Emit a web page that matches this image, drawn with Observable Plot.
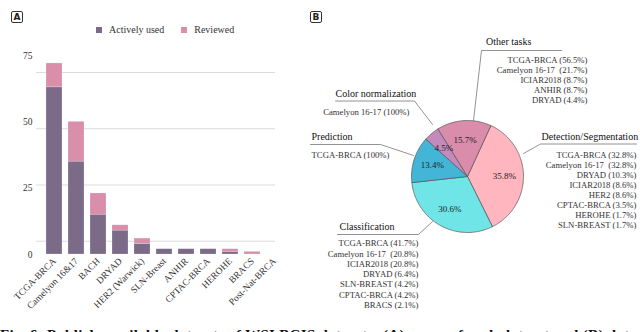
<!DOCTYPE html>
<html><head><meta charset="utf-8">
<script src="https://cdn.jsdelivr.net/npm/d3@7"></script>
<script src="https://cdn.jsdelivr.net/npm/@observablehq/plot@0.6"></script>
<style>
html,body{margin:0;padding:0;background:#fff;}
body{width:640px;height:332px;overflow:hidden;position:relative;font-family:"Liberation Serif",serif;}
.abs{position:absolute;}
svg, svg text{font-family:"Liberation Serif",serif !important;}
.panel{position:absolute;width:10px;height:10px;border:1px solid #333;border-radius:2px;font:bold 9px "DejaVu Sans",sans-serif;text-align:center;line-height:10px;color:#222;}
.lg-swatches{font-family:"Liberation Serif",serif !important;font-size:10px !important;color:#333;margin:0 !important;}
.lg-swatch{margin-right:17px !important;}
.lg-swatch > svg{margin-right:7px !important;}
#caption{left:0;top:327px;font:bold 15px "Liberation Serif",serif;white-space:nowrap;color:#111;letter-spacing:0.3px;}
</style></head><body>
<div id="bar" class="abs" style="left:0;top:0"></div>
<div id="legend" class="abs" style="left:96px;top:13px"></div>
<div id="pie" class="abs" style="left:300px;top:0"></div>
<div class="panel" style="left:11px;top:11px">A</div>
<div class="panel" style="left:310px;top:11px">B</div>
<div id="caption" class="abs">Fig. 6: Publicly available datasets of WSI BCIS datasets: (A) usage of each dataset and (B) datasets used per task</div>
<script>
// ---------- Panel A data ----------
const datasets = ["TCGA-BRCA","Camelyon 16&17","BACH","DRYAD","HER2 (Warwick)","SLN-Breast","ANHIR","CPTAC-BRCA","HEROHE","BRACS","Post-Nat-BRCA"];
const activelyUsed = [63, 35, 15, 9, 4, 2, 2, 2, 1, 0, 0];
const reviewed     = [ 9, 15,  8, 2, 2, 0, 0, 0, 1, 1, 0];
const seriesNames = ["Actively used","Reviewed"];
const seriesColors = ["#7c6a89","#d98ea9"];
const yTicks = [0, 25, 50, 75];
const gridValues = [5, 26.2, 47.4, 68.6];

// ---------- Panel B data ----------
const tasks = ["Detection/Segmentation","Classification","Prediction","Color normalization","Other tasks"];
const taskShares = [35.8, 30.6, 13.4, 4.5, 15.7];
const taskColors = ["#ffb6bf","#6fe5e8","#43b6d7","#c48abd","#d98dab"];
const detectionList = ["TCGA-BRCA (32.8%)","Camelyon 16-17\u00a0 (32.8%)","DRYAD (10.3%)","ICIAR2018 (8.6%)","HER2 (8.6%)","CPTAC-BRCA (3.5%)","HEROHE (1.7%)","SLN-BREAST (1.7%)"];
const classificationList = ["TCGA-BRCA (41.7%)","Camelyon 16-17\u00a0 (20.8%)","ICIAR2018 (20.8%)","DRYAD (6.4%)","SLN-BREAST (4.2%)","CPTAC-BRCA (4.2%)","BRACS (2.1%)"];
const predictionList = ["TCGA-BRCA (100%)"];
const colorNormList = ["Camelyon 16-17 (100%)"];
const otherTasksList = ["TCGA-BRCA (56.5%)","Camelyon 16-17\u00a0 (21.7%)","ICIAR2018 (8.7%)","ANHIR (8.7%)","DRYAD (4.4%)"];

const FONT = "Liberation Serif, serif";

// ---------- Panel A ----------
const rows = [];
datasets.forEach((d, i) => {
  rows.push({dataset: d, series: seriesNames[0], value: activelyUsed[i]});
  rows.push({dataset: d, series: seriesNames[1], value: reviewed[i]});
});
const bar = Plot.plot({
  width: 300, height: 320,
  marginLeft: 36, marginRight: 9, marginTop: 55, marginBottom: 66,
  style: {fontFamily: FONT, fontSize: "9.5px", color: "#333", background: "transparent"},
  x: {domain: datasets, padding: 0.275, label: null, tickSize: 0, tickRotate: -45, tickPadding: 5},
  y: {domain: [0, 75], ticks: yTicks, label: null, tickSize: 0, tickPadding: 4},
  color: {domain: seriesNames, range: seriesColors},
  marks: [
    Plot.ruleY(gridValues, {stroke: "#dcdcdc", strokeWidth: 1, insetRight: 16}),
    Plot.barY(rows, {x: "dataset", y: "value", fill: "series", stroke: "#fff", strokeOpacity: 0.35, strokeWidth: 0.6})
  ]
});
document.getElementById("bar").appendChild(bar);
document.getElementById("legend").appendChild(
  Plot.legend({color: {domain: seriesNames, range: seriesColors}, legend: "swatches", swatchSize: 6, className: "lg"})
);

// ---------- Panel B ----------
// page-pixel layout of the pie
const cx = 467, cy = 176, r = 56, startDeg = 24.7;
const arcs = d3.pie().sort(null).startAngle(startDeg * Math.PI / 180).endAngle((startDeg + 360) * Math.PI / 180)(taskShares);
const pt = (a, k) => ({x: cx + k * r * Math.sin(a), y: cy - k * r * Math.cos(a)});
const wedges = arcs.map(a => {
  const pts = [pt(0, 0)];
  const n = Math.max(4, Math.ceil((a.endAngle - a.startAngle) / 0.02));
  for (let j = 0; j <= n; j++) pts.push(pt(a.startAngle + (a.endAngle - a.startAngle) * j / n, 1));
  pts.push(pt(0, 0));
  return pts;
});
const pctLabels = arcs.map((a, i) => ({...pt((a.startAngle + a.endAngle) / 2, 0.66), t: taskShares[i] + "%"}));

// annotation layout: title position, underline, leader, list anchor
const ann = [
  {title: tasks[4], tx: 485.5, ty: 41.5, line: [[561,50],[481,50],[473,120]], list: otherTasksList, lx: 587, ly: 60, step: 10},
  {title: tasks[3], tx: 335, ty: 93, line: [[335,100.5],[414,100.5],[432,124]], list: colorNormList, lx: 409, ly: 112, step: 10},
  {title: "Prediction", tx: 311, ty: 136, line: [[310,144],[380,144],[413,155]], list: predictionList, lx: 389, ly: 154.5, step: 10},
  {title: tasks[0], tx: 541, ty: 136, line: [[636,143.5],[540,143.5],[523,153]], list: detectionList, lx: 636, ly: 155, step: 10},
  {title: tasks[1], tx: 339, ty: 226, line: [[337,234],[418,234],[432,221]], list: classificationList, lx: 418, ly: 243, step: 10.3}
];
const titles = ann.map(a => ({x: a.tx, y: a.ty, t: a.title}));
const listRows = ann.flatMap(a => a.list.map((t, i) => ({x: a.lx, y: a.ly + i * a.step, t})));

const pie = Plot.plot({
  width: 340, height: 320, margin: 0,
  style: {fontFamily: FONT, background: "transparent"},
  x: {domain: [300, 640], range: [0, 340], axis: null},
  y: {domain: [0, 320], range: [0, 320], axis: null},
  marks: [
    ...ann.map(a => Plot.line(a.line.map(([x, y]) => ({x, y})), {x: "x", y: "y", stroke: "#777", strokeWidth: 0.8})),
    ...wedges.map((w, i) => Plot.line(w, {x: "x", y: "y", fill: taskColors[i], stroke: "#555", strokeWidth: 0.7, strokeLinejoin: "round"})),
    Plot.text(pctLabels, {x: "x", y: "y", text: "t", fontSize: 9, fill: "#222", fontFamily: FONT}),
    Plot.text(titles, {x: "x", y: "y", text: "t", textAnchor: "start", fontSize: 10, fill: "#111", fontFamily: FONT}),
    Plot.text(listRows, {x: "x", y: "y", text: "t", textAnchor: "end", fontSize: 8.7, fill: "#333", fontFamily: FONT})
  ]
});
document.getElementById("pie").appendChild(pie);
</script>
</body></html>
